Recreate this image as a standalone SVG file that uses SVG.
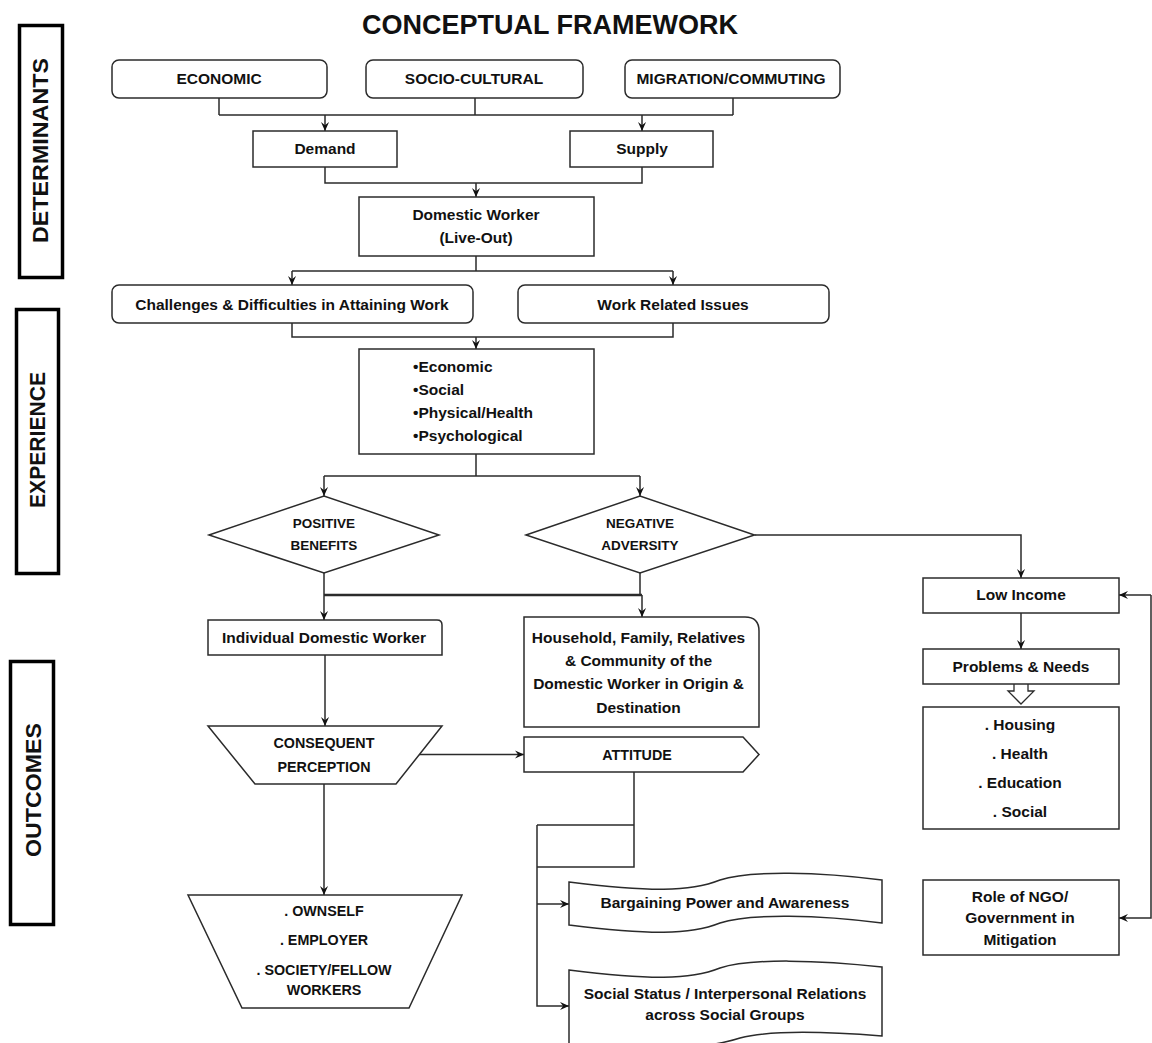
<svg xmlns="http://www.w3.org/2000/svg" width="1152" height="1043" viewBox="0 0 1152 1043">
<style>
  .bg{fill:#ffffff}
  .box{fill:#ffffff;stroke:#2b2b2b;stroke-width:1.5}
  .side{fill:#ffffff;stroke:#000000;stroke-width:3.5}
  .t{font-family:"Liberation Sans",Arial,sans-serif;font-weight:bold;font-size:15.5px;fill:#111111;text-anchor:middle}
  .tl{text-anchor:start}
  .sm{font-size:13.5px}
  .md{font-size:14.3px}
  .title{font-size:27px}
  .sidet{font-size:22.5px}
  .c{fill:none;stroke:#2b2b2b;stroke-width:1.5}
  .ca{fill:none;stroke:#2b2b2b;stroke-width:1.5;marker-end:url(#arr)}
</style>
<defs>
  <marker id="arr" viewBox="0 0 10 10" refX="10" refY="5" markerWidth="9" markerHeight="9" markerUnits="userSpaceOnUse" orient="auto">
    <path d="M0,0.5 L10,5 L0,9.5 L3.5,5 Z" fill="#111111"/>
  </marker>
</defs>
<rect class="bg" x="0" y="0" width="1152" height="1043"/>

<text class="t title" x="550" y="34">CONCEPTUAL FRAMEWORK</text>

<g id="side-determinants">
  <rect class="side" x="19.5" y="25.5" width="43" height="252"/>
  <text class="t sidet" transform="translate(48,150.5) rotate(-90)" textLength="185" lengthAdjust="spacingAndGlyphs">DETERMINANTS</text>
</g>
<g id="side-experience">
  <rect class="side" x="16.5" y="309.5" width="42" height="264"/>
  <text class="t sidet" transform="translate(45,440) rotate(-90)" textLength="136" lengthAdjust="spacingAndGlyphs">EXPERIENCE</text>
</g>
<g id="side-outcomes">
  <rect class="side" x="10.5" y="661.5" width="43" height="263"/>
  <text class="t sidet" transform="translate(40.5,790) rotate(-90)" textLength="134" lengthAdjust="spacingAndGlyphs">OUTCOMES</text>
</g>

<g id="connectors">
  <path class="c" d="M219,98 V115 M475,98 V115 M733,98 V115 M219,115 H733"/>
  <path class="ca" d="M325,115 V131"/>
  <path class="ca" d="M642,115 V131"/>
  <path class="c" d="M325,167 V183 H642 V167"/>
  <path class="ca" d="M476,183 V197"/>
  <path class="c" d="M476,256 V271 M292,271 H673"/>
  <path class="ca" d="M292,271 V285"/>
  <path class="ca" d="M673,271 V285"/>
  <path class="c" d="M292,323 V337 H673 V323"/>
  <path class="ca" d="M476,337 V349"/>
  <path class="c" d="M476,454 V476 M324,476 H640"/>
  <path class="ca" d="M324,476 V496"/>
  <path class="ca" d="M640,476 V496"/>
  <path class="ca" d="M754.5,535 H1021 V578"/>
  <path class="c" d="M324,573 V595 M640,573 V595"/>
  <path class="c" d="M324,595 H642" style="stroke-width:2.4"/>
  <path class="ca" d="M324,595 V620"/>
  <path class="ca" d="M642,595 V617"/>
  <path class="ca" d="M325,655 V726"/>
  <path class="ca" d="M419,754.5 H524"/>
  <path class="ca" d="M324,784 V895"/>
  <path class="c" d="M634,772 V867 H537 M537,825 H634"/>
  <path class="ca" d="M537,825 V1006 H569"/>
  <path class="ca" d="M537,904 H569"/>
  <path class="ca" d="M1021,613 V649"/>
  <path class="ca" d="M1151,595 H1119"/>
  <path class="ca" d="M1151,595 V918 H1119"/>
  <path d="M1014,684 V691 H1008 L1021,704 L1034,691 H1028 V684" fill="#ffffff" stroke="#2b2b2b" stroke-width="1.3"/>
</g>

<g id="economic">
  <rect class="box" x="112" y="60" width="215" height="38" rx="7"/>
  <text class="t" x="219" y="84">ECONOMIC</text>
</g>
<g id="socio-cultural">
  <rect class="box" x="366" y="60" width="217" height="38" rx="7"/>
  <text class="t" x="474" y="84">SOCIO-CULTURAL</text>
</g>
<g id="migration">
  <rect class="box" x="625" y="60" width="215" height="38" rx="7"/>
  <text class="t" x="731" y="84">MIGRATION/COMMUTING</text>
</g>
<g id="demand">
  <rect class="box" x="253" y="131" width="144" height="36"/>
  <text class="t" x="325" y="154">Demand</text>
</g>
<g id="supply">
  <rect class="box" x="570" y="131" width="143" height="36"/>
  <text class="t" x="642" y="154">Supply</text>
</g>
<g id="domestic-worker">
  <rect class="box" x="359" y="197" width="235" height="59"/>
  <text class="t" x="476" y="220">Domestic Worker</text>
  <text class="t" x="476" y="243">(Live-Out)</text>
</g>
<g id="challenges">
  <rect class="box" x="112" y="285" width="361" height="38" rx="7"/>
  <text class="t" x="292" y="310">Challenges &amp; Difficulties in Attaining Work</text>
</g>
<g id="work-issues">
  <rect class="box" x="518" y="285" width="311" height="38" rx="7"/>
  <text class="t" x="673" y="310">Work Related Issues</text>
</g>
<g id="aspects">
  <rect class="box" x="359" y="349" width="235" height="105"/>
  <text class="t tl" x="413" y="372">•Economic</text>
  <text class="t tl" x="413" y="395">•Social</text>
  <text class="t tl" x="413" y="418">•Physical/Health</text>
  <text class="t tl" x="413" y="441">•Psychological</text>
</g>
<g id="positive">
  <polygon class="box" points="209,535 324,496 439,535 324,573"/>
  <text class="t sm" x="324" y="528">POSITIVE</text>
  <text class="t sm" x="324" y="550">BENEFITS</text>
</g>
<g id="negative">
  <polygon class="box" points="526,535 640,496 754.5,535 640,573"/>
  <text class="t sm" x="640" y="528">NEGATIVE</text>
  <text class="t sm" x="640" y="550">ADVERSITY</text>
</g>
<g id="low-income">
  <rect class="box" x="923" y="578" width="196" height="35"/>
  <text class="t" x="1021" y="600">Low Income</text>
</g>
<g id="individual">
  <path class="box" d="M208,620 H437 Q442,620 442,625 V655 H208 Z"/>
  <text class="t" x="324" y="643">Individual Domestic Worker</text>
</g>
<g id="household">
  <path class="box" d="M524,617 H745 Q759,617 759,631 V727 H524 Z"/>
  <text class="t" x="638.5" y="643">Household, Family, Relatives</text>
  <text class="t" x="638.5" y="666">&amp; Community of the</text>
  <text class="t" x="638.5" y="689">Domestic Worker in Origin &amp;</text>
  <text class="t" x="638.5" y="712.5">Destination</text>
</g>
<g id="problems">
  <rect class="box" x="923" y="649" width="196" height="35"/>
  <text class="t" x="1021" y="672">Problems &amp; Needs</text>
</g>
<g id="needs-list">
  <rect class="box" x="923" y="707" width="196" height="122"/>
  <text class="t" x="1020" y="730">. Housing</text>
  <text class="t" x="1020" y="759">. Health</text>
  <text class="t" x="1020" y="788">. Education</text>
  <text class="t" x="1020" y="817">. Social</text>
</g>
<g id="consequent">
  <polygon class="box" points="208,726 442,726 396,784 255,784"/>
  <text class="t md" x="324" y="748">CONSEQUENT</text>
  <text class="t md" x="324" y="771.5">PERCEPTION</text>
</g>
<g id="attitude">
  <polygon class="box" points="524,737 743,737 759,754.5 743,772 524,772"/>
  <text class="t md" x="637" y="760">ATTITUDE</text>
</g>
<g id="role-ngo">
  <rect class="box" x="923" y="880" width="196" height="75"/>
  <text class="t" x="1020" y="902">Role of NGO/</text>
  <text class="t" x="1020" y="923">Government in</text>
  <text class="t" x="1020" y="944.5">Mitigation</text>
</g>
<g id="ownself">
  <polygon class="box" points="188,895 462,895 409,1008 242,1008"/>
  <text class="t md" x="324" y="916">. OWNSELF</text>
  <text class="t md" x="324" y="945">. EMPLOYER</text>
  <text class="t md" x="324" y="975">. SOCIETY/FELLOW</text>
  <text class="t md" x="324" y="995">WORKERS</text>
</g>
<g id="bargaining">
  <path class="box" d="M569,882 C650,892 690,892 720,880 C750,870 820,872 882,880 L882,923 C820,915 750,913 720,923 C690,935 650,935 569,925 Z"/>
  <text class="t" x="725" y="908">Bargaining Power and Awareness</text>
</g>
<g id="social-status">
  <path class="box" d="M569,970 C650,980 690,980 720,968 C750,958 820,960 882,967 L882,1036 C820,1031 770,1030 740,1038 C710,1048 650,1052 569,1050 Z"/>
  <text class="t" x="725" y="999">Social Status / Interpersonal Relations</text>
  <text class="t" x="725" y="1020">across Social Groups</text>
</g>
</svg>
